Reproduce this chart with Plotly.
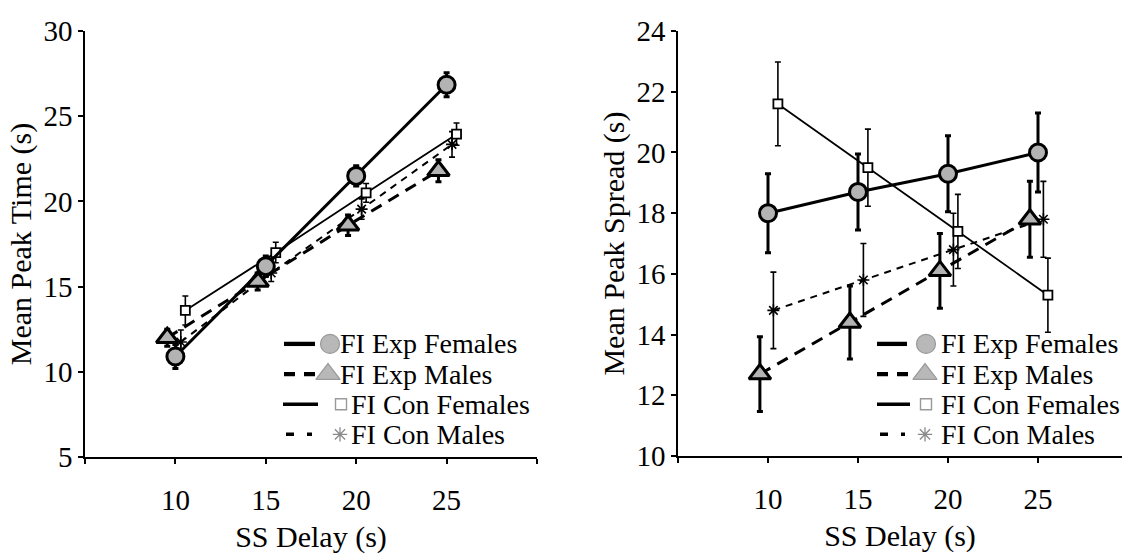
import plotly.graph_objects as go

# ---------------- data ----------------
delays = [10, 15, 20, 25]
series_names = ["FI Exp Females", "FI Exp Males", "FI Con Females", "FI Con Males"]
x_offsets = [0.0, -0.45, 0.55, 0.3]

exp_f_time = [10.9, 16.2, 21.5, 26.85]
exp_m_time = [12.0, 15.3, 18.6, 21.8]
con_f_time = [13.6, 17.0, 20.5, 23.95]
con_m_time = [11.75, 15.8, 19.55, 23.35]
exp_f_time_err = [0.7, 0.6, 0.6, 0.7]
exp_m_time_err = [0.5, 0.5, 0.6, 0.65]
con_f_time_err = [0.85, 0.6, 0.55, 0.65]
con_m_time_err = [0.7, 0.5, 0.6, 0.75]

exp_f_spread = [18.0, 18.7, 19.3, 20.0]
exp_m_spread = [12.7, 14.4, 16.1, 17.8]
con_f_spread = [21.6, 19.5, 17.4, 15.3]
con_m_spread = [14.8, 15.8, 16.8, 17.8]
exp_f_spread_err = [1.3, 1.25, 1.25, 1.3]
exp_m_spread_err = [1.23, 1.2, 1.23, 1.25]
con_f_spread_err = [1.38, 1.27, 1.22, 1.22]
con_m_spread_err = [1.26, 1.2, 1.2, 1.25]

left_yticks = [5, 10, 15, 20, 25, 30]
right_yticks = [10, 12, 14, 16, 18, 20, 22, 24]
x_tickvals = [5, 10, 15, 20, 25, 30]
x_ticktext = ["", "10", "15", "20", "25", ""]

# ---------------- styles ----------------
FONT = "Liberation Serif, Times New Roman, serif"
TICK_SIZE = 29
TITLE_SIZE = 30
LEG_SIZE = 28
styles = {
    "FI Exp Females": dict(symbol="circle", size=17, fill="#b3b3b3", mline=3, lw=3, dash="solid", ew=3, ecap=3),
    "FI Exp Males": dict(symbol="triangle-up", size=19, fill="#b3b3b3", mline=3, lw=3, dash="12px,8px", ew=3, ecap=3),
    "FI Con Females": dict(symbol="square", size=9, fill="white", mline=1.8, lw=1.8, dash="solid", ew=1.6, ecap=3),
    "FI Con Males": dict(symbol="asterisk-open", size=10, fill="black", mline=1.6, lw=2, dash="7px,6px", ew=1.6, ecap=3),
}

time_data = {
    "FI Exp Females": (exp_f_time, exp_f_time_err),
    "FI Exp Males": (exp_m_time, exp_m_time_err),
    "FI Con Females": (con_f_time, con_f_time_err),
    "FI Con Males": (con_m_time, con_m_time_err),
}
spread_data = {
    "FI Exp Females": (exp_f_spread, exp_f_spread_err),
    "FI Exp Males": (exp_m_spread, exp_m_spread_err),
    "FI Con Females": (con_f_spread, con_f_spread_err),
    "FI Con Males": (con_m_spread, con_m_spread_err),
}

fig = go.Figure()
draw_order = ["FI Con Males", "FI Con Females", "FI Exp Males", "FI Exp Females"]
for data, xa, ya in [(time_data, "x", "y"), (spread_data, "x2", "y2")]:
    for name in draw_order:
        st = styles[name]
        off = x_offsets[series_names.index(name)]
        vals, errs = data[name]
        fig.add_trace(go.Scatter(
            x=[d + off for d in delays], y=vals, xaxis=xa, yaxis=ya,
            mode="lines+markers", name=name, showlegend=False,
            line=dict(color="black", width=st["lw"], dash=st["dash"]),
            marker=dict(symbol=st["symbol"], size=st["size"], color=st["fill"],
                        line=dict(color="black", width=st["mline"])),
            error_y=dict(type="data", array=errs, visible=True, color="black",
                         thickness=st["ew"], width=st["ecap"]),
        ))

# ---------------- custom legends (pixel overlay axis) ----------------
W, H = 1122, 554
legend_rows = [348, 380, 412, 444]
legend_cfg = [
    dict(lx=[(284, 315), (284, 316), (283, 318), (286, 312)], mx=[330, 328, 341, 340], tx=[338, 338, 349, 349]),
    dict(lx=[(877, 907), (877, 910), (877, 910), (880, 905)], mx=[926, 925, 926, 925], tx=[939, 939, 939, 939]),
]
leg_line = {
    "FI Exp Females": dict(width=4.3, dash="solid"),
    "FI Exp Males": dict(width=4.3, dash="11px,9px"),
    "FI Con Females": dict(width=3.5, dash="solid"),
    "FI Con Males": dict(width=3.5, dash="8px,13px"),
}
leg_marker = {
    "FI Exp Females": dict(symbol="circle", size=19, color="#b8b8b8", line=dict(color="#9a9a9a", width=1.2)),
    "FI Exp Males": dict(symbol="triangle-up", size=21, color="#b8b8b8", line=dict(color="#9a9a9a", width=1.2)),
    "FI Con Females": dict(symbol="square", size=11, color="white", line=dict(color="#9a9a9a", width=1.4)),
    "FI Con Males": dict(symbol="asterisk-open", size=12, color="#8a8a8a", line=dict(color="#8a8a8a", width=1.3)),
}
shapes = []
annotations = []
for cfg in legend_cfg:
    for i, name in enumerate(series_names):
        yrow = legend_rows[i]
        x0, x1 = cfg["lx"][i]
        shapes.append(dict(type="line", xref="x3", yref="y3", x0=x0, x1=x1, y0=yrow, y1=yrow,
                           line=dict(color="black", width=leg_line[name]["width"], dash=leg_line[name]["dash"])))
        fig.add_trace(go.Scatter(x=[cfg["mx"][i]], y=[yrow], xaxis="x3", yaxis="y3", mode="markers",
                                 marker=leg_marker[name], showlegend=False, hoverinfo="skip"))
        annotations.append(dict(xref="x3", yref="y3", x=cfg["tx"][i], y=yrow, text=name, showarrow=False,
                                xanchor="left", yanchor="middle", font=dict(family=FONT, size=LEG_SIZE, color="black")))

axis_common = dict(showline=True, linecolor="black", linewidth=1.5, ticks="outside", ticklen=5,
                   tickwidth=1.5, tickcolor="black", showgrid=False, zeroline=False,
                   tickfont=dict(family=FONT, size=TICK_SIZE, color="black"))

fig.update_layout(
    width=W, height=H, margin=dict(l=0, r=0, t=0, b=0),
    paper_bgcolor="white", plot_bgcolor="rgba(0,0,0,0)",
    showlegend=False,
    font=dict(family=FONT, color="black"),
    xaxis=dict(domain=[85 / W, 537 / W], range=[5, 30], tickvals=x_tickvals, ticktext=x_ticktext,
               anchor="y", title=dict(text="SS Delay (s)", font=dict(family=FONT, size=TITLE_SIZE), standoff=11),
               ticklabelstandoff=11, **axis_common),
    yaxis=dict(domain=[(H - 468) / H, (H - 16) / H], range=[5, 30], tickvals=left_yticks,
               anchor="x", title=dict(text="Mean Peak Time (s)", font=dict(family=FONT, size=TITLE_SIZE), standoff=3),
               ticklabelstandoff=0, **axis_common),
    xaxis2=dict(domain=[678 / W, 1.0], range=[5, 5 + (W - 678) / 18.0], tickvals=x_tickvals, ticktext=x_ticktext,
                anchor="y2", title=dict(text="SS Delay (s)", font=dict(family=FONT, size=TITLE_SIZE), standoff=11),
                ticklabelstandoff=11, **axis_common),
    yaxis2=dict(domain=[(H - 467) / H, (H - 16) / H], range=[10, 24], tickvals=right_yticks,
                anchor="x2", title=dict(text="Mean Peak Spread (s)", font=dict(family=FONT, size=TITLE_SIZE), standoff=3),
                ticklabelstandoff=0, **axis_common),
    xaxis3=dict(domain=[0, 1], range=[0, W], visible=False, anchor="y3", fixedrange=True),
    yaxis3=dict(domain=[0, 1], range=[H, 0], visible=False, anchor="x3", fixedrange=True),
    shapes=shapes,
    annotations=annotations,
)

fig.write_html("out.html")
